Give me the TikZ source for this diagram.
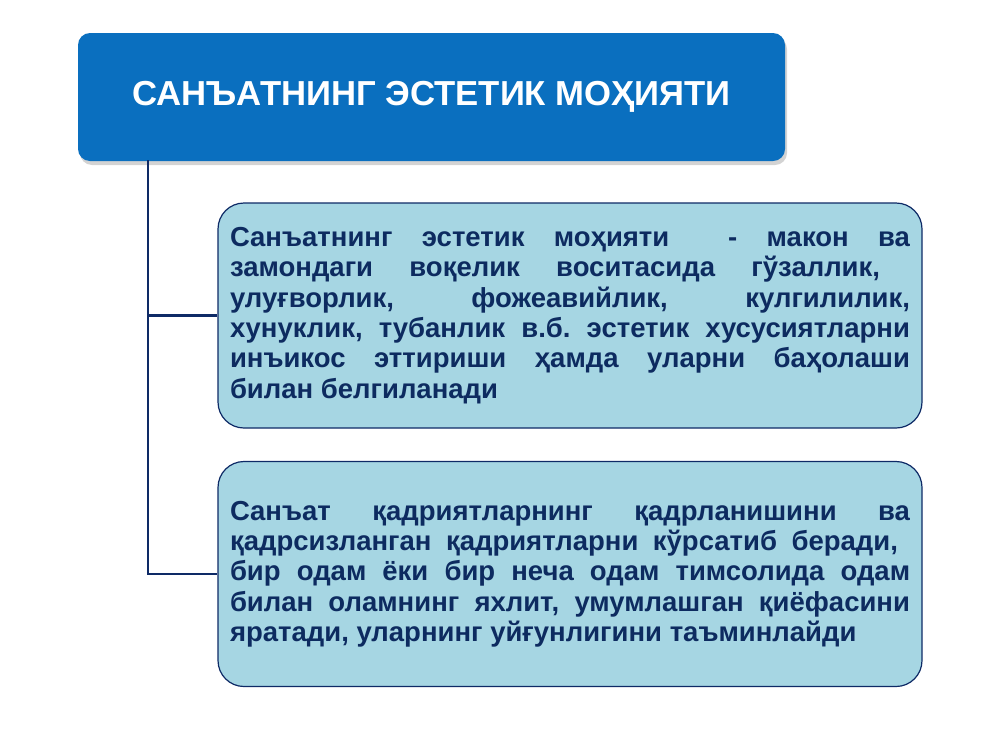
\documentclass[tikz,border=0pt]{standalone}
\usepackage{fontspec}
\setmainfont{Liberation Sans}
\usetikzlibrary{shadows}

\definecolor{titleblue}{HTML}{0A6FBF}
\definecolor{boxfill}{HTML}{A6D6E3}
\definecolor{navy}{HTML}{0E2A66}
\definecolor{textnavy}{HTML}{0D2B60}

\begin{document}
\frenchspacing
\begin{tikzpicture}[x=1pt, y=-1pt,
    titlebox/.style={rectangle, rounded corners=12pt, fill=titleblue,
        minimum width=707pt, minimum height=128pt, inner sep=0pt,
        drop shadow={shadow xshift=2pt, shadow yshift=-4pt, opacity=0.35, fill=gray},
        text=white, font=\bfseries\fontsize{34.7}{40}\selectfont},
    infobox/.style={rectangle, rounded corners=26pt, fill=boxfill, draw=navy, line width=1.2pt,
        minimum width=704pt, minimum height=225pt, inner sep=12pt,
        text width=680pt, align=justify, text=textnavy,
        font=\bfseries\fontsize{27.5}{30.3}\selectfont},
    link/.style={draw=navy, line width=2.4pt}]

\useasboundingbox (0,0) rectangle (1000,750);

\node[titlebox] (title) at (431.5, 97) {САНЪАТНИНГ ЭСТЕТИК МОҲИЯТИ};

\node[infobox] (essence) at (570, 315.5) {\hyphenpenalty=10000
Санъатнинг эстетик моҳияти \ - макон ва\linebreak
замондаги воқелик воситасида гўзаллик,\hspace*{30pt}\linebreak
улуғворлик, фожеавийлик, кулгилилик,\linebreak
хунуклик, тубанлик в.б. эстетик хусусиятларни\linebreak
инъикос эттириши ҳамда уларни баҳолаши\linebreak
билан белгиланади};

\node[infobox] (values) at (570, 574) {\hyphenpenalty=10000
Санъат қадриятларнинг қадрланишини ва\linebreak
қадрсизланган қадриятларни кўрсатиб беради,\hspace*{12pt}\linebreak
бир одам ёки бир неча одам тимсолида одам\linebreak
билан оламнинг яхлит, умумлашган қиёфасини\linebreak
яратади, уларнинг уйғунлигини таъминлайди};

% trunk under the title
\coordinate (trunk) at (148, 160);
\draw[link] (trunk) |- (essence.west);
\draw[link] (trunk) |- (values.west);

\end{tikzpicture}
\end{document}
